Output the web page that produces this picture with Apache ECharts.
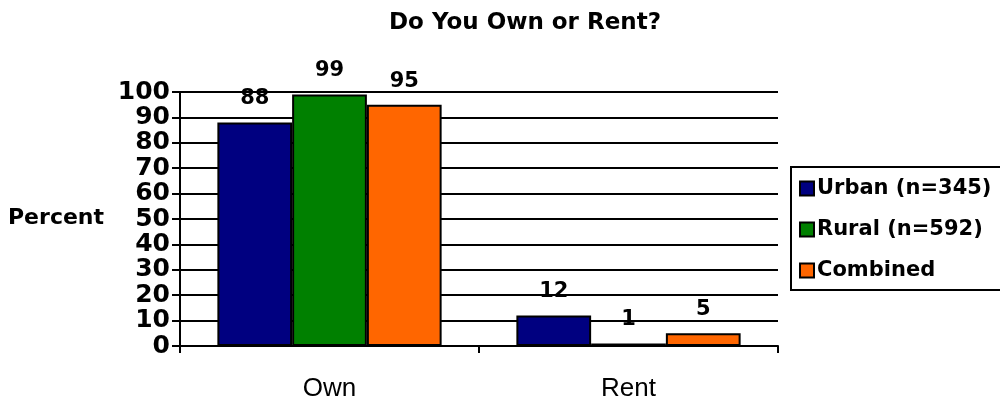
<!DOCTYPE html>
<html><head><meta charset="utf-8">
<script src="https://cdn.jsdelivr.net/npm/echarts@6/dist/echarts.min.js"></script>
<style>html,body{margin:0;padding:0;background:#fff}#c{width:1000px;height:402px}</style>
</head><body><div id="c"></div>
<script>
const categories = ['Own', 'Rent'];
const urban = [88, 12];
const rural = [99, 1];
const combined = [95, 5];
const seriesNames = ['Urban (n=345)', 'Rural (n=592)', 'Combined'];
const colors = ['#000080', '#008000', '#FF6600'];

const bold = 'DejaVu Sans, Liberation Sans, Arial, sans-serif';
const reg = 'Liberation Sans, Arial, sans-serif';
const chart = echarts.init(document.getElementById('c'));
const mk = (name, data, color) => ({
  name, type: 'bar', data,
  barGap: '0%', barCategoryGap: '25%',
  itemStyle: { color, borderColor: '#000', borderWidth: 2 },
  label: { show: true, position: 'top', distance: 13, color: '#000', fontFamily: bold, fontWeight: 'bold', fontSize: 21 }
});
chart.setOption({
  animation: false,
  title: { text: 'Do You Own or Rent?', left: 520, top: 7, textAlign: 'center',
    textStyle: { fontFamily: bold, fontWeight: 'bold', fontSize: 23, color: '#000' } },
  graphic: [
    { type: 'text', left: 8, top: 207, style: { text: 'Percent', fontFamily: bold, fontWeight: 'bold', fontSize: 22, fill: '#000' } },
    { type: 'rect', shape: { x: 791, y: 167, width: 240, height: 123 }, style: { fill: 'none', stroke: '#000', lineWidth: 2 }, z: 10 }
  ],
  legend: {
    orient: 'vertical', left: 790, top: 166, padding: [12, 10, 10, 9],
    itemWidth: 14, itemHeight: 14, itemGap: 20, icon: 'rect',
    textStyle: { fontFamily: bold, fontWeight: 'bold', fontSize: 21, color: '#000', padding: [0,0,0,-2] }
  },
  grid: { left: 180, right: 222, top: 92, bottom: 56, containLabel: false },
  xAxis: {
    type: 'category', data: categories,
    axisLine: { lineStyle: { color: '#000', width: 2 } },
    axisTick: { show: true, length: 7, lineStyle: { color: '#000', width: 2 } },
    axisLabel: { margin: 30, fontFamily: reg, fontSize: 26, color: '#000' }
  },
  yAxis: {
    type: 'value', min: 0, max: 100, interval: 10,
    axisLine: { show: true, lineStyle: { color: '#000', width: 2 } },
    axisTick: { show: true, length: 8, lineStyle: { color: '#000', width: 2 } },
    splitLine: { lineStyle: { color: '#000', width: 2 } },
    axisLabel: { margin: 10, fontFamily: bold, fontWeight: 'bold', fontSize: 25, color: '#000',
      showMinLabel: true, showMaxLabel: true, hideOverlap: false }
  },
  series: [mk(seriesNames[0], urban, colors[0]), mk(seriesNames[1], rural, colors[1]), mk(seriesNames[2], combined, colors[2])]
});
</script></body></html>
